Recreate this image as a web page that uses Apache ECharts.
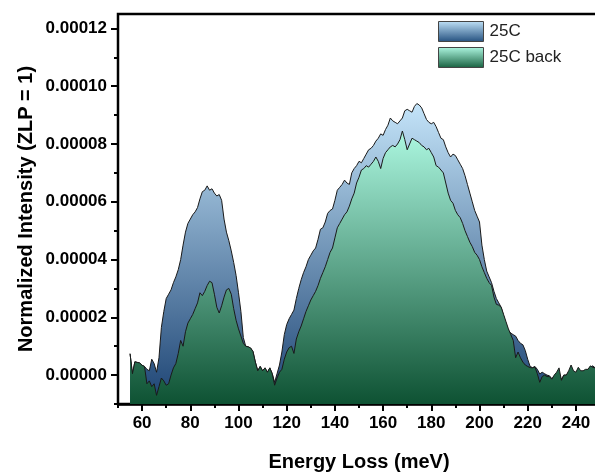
<!DOCTYPE html>
<html>
<head>
<meta charset="utf-8">
<script src="https://cdn.jsdelivr.net/npm/echarts@6/dist/echarts.min.js"></script>
<style>
  html, body { margin: 0; padding: 0; background: #fff; }
  #chart { width: 595px; height: 472px; }
</style>
</head>
<body>
<div id="chart"></div>
<script>
// energy loss (meV), one sample per meV
var energy = [
  55,56,57,58,59,60,61,62,63,64,
  65,66,67,68,69,70,71,72,73,74,
  75,76,77,78,79,80,81,82,83,84,
  85,86,87,88,89,90,91,92,93,94,
  95,96,97,98,99,100,101,102,103,104,
  105,106,107,108,109,110,111,112,113,114,
  115,116,117,118,119,120,121,122,123,124,
  125,126,127,128,129,130,131,132,133,134,
  135,136,137,138,139,140,141,142,143,144,
  145,146,147,148,149,150,151,152,153,154,
  155,156,157,158,159,160,161,162,163,164,
  165,166,167,168,169,170,171,172,173,174,
  175,176,177,178,179,180,181,182,183,184,
  185,186,187,188,189,190,191,192,193,194,
  195,196,197,198,199,200,201,202,203,204,
  205,206,207,208,209,210,211,212,213,214,
  215,216,217,218,219,220,221,222,223,224,
  225,226,227,228,229,230,231,232,233,234,
  235,236,237,238,239,240,241,242,243,244,
  245,246,247,248
];

// intensities in units of 1e-6
var unit = 1e-6;
var int25C = [
  7.4, 0.5, 4.6, 4.4, 4.2, 3.4, 3.0, 2.0, 1.5, 5.5,
  4.0, 1.0, 6.0, 16.5, 22, 26.5, 28, 29.5, 32, 34,
  36.5, 40, 45, 49.5, 52.5, 54, 55.5, 56.5, 58, 61,
  63.5, 64, 65.5, 64, 64.5, 63, 62, 62.5, 60.5, 54,
  49.5, 46.5, 43, 39, 34.5, 28.5, 22, 13, 10, 9.8,
  9.4, 8.2, 4.5, 1.5, 3, 1.5, 2.5, 1, 2.5, 0.5,
  -2.5, 0.5, 3.5, 8, 14, 17.5, 19.5, 21, 22.5, 26.5,
  30, 33, 35.5, 37.5, 40, 41.5, 43, 44, 47, 50.5,
  51, 53, 56, 57, 57.5, 60.5, 64, 65, 66, 67.5,
  66.5, 66, 70, 71.5, 72.5, 74, 73.5, 75, 76.5, 78,
  78.5, 79.5, 81, 82, 83.5, 83, 85, 86.5, 89, 88,
  87.5, 87, 88, 89, 91.5, 92, 91.5, 91, 93, 94,
  93.5, 92.5, 90.5, 88.5, 87.5, 87, 87.5, 86, 84, 82,
  81.5, 79, 77, 75.5, 76.5, 76, 74.5, 73, 71.5, 69,
  66, 63, 60, 57, 55, 53, 45, 40, 36, 34,
  32, 29, 26.5, 25, 23.5, 20.5, 17.5, 15.5, 14.5, 14,
  13.5, 12, 11, 10.5, 8.5, 5.5, 3, 2.6, 3, 2,
  0.4, 1, 0.5, 0, -0.2, -1.2, -0.5, -1, 0.5, -1.5,
  0, 0, 0.8, 1.5, 1.3, 0.5, 2, 1, 0.5, 1.5,
  2, 2.8, 3.2, 2.5
];
var int25Cback = [
  7.4, 0.5, 4.6, 4.4, 4.2, 3.4, 3.0, -3, -2, -4,
  -3, -7, -4, -1, -2, -3.5, -3, 0, 2.5, 4,
  7.5, 12, 10, 15, 18, 19.5, 21, 23, 25, 28.5,
  27.5, 29, 31, 32.5, 32, 28, 23.5, 21.5, 24, 27,
  29.5, 30, 28, 23, 19, 16, 13.5, 11, 10, 9.8,
  9.4, 8.2, 4.5, 1.5, 3, 1.5, 2.5, 1, 2.5, 0.5,
  -3.5, -1, 1, 2, 5.5, 8, 9.5, 10, 7.5, 12.5,
  15, 17, 19.5, 22, 24, 26, 27.5, 29, 31, 33.5,
  35.5, 37.5, 40, 42.5, 44, 47.5, 51, 52.5, 54, 55.5,
  56.5, 58.5, 61, 63, 66.5, 68.5, 71, 71.5, 72.5, 72,
  73, 74, 75.5, 74, 71.5, 75, 77, 78, 79, 79.5,
  79, 80, 81.5, 84.5, 81.5, 78, 80, 82, 81.5, 81,
  80.5, 79.5, 79, 78, 78.5, 77, 75.5, 72.5, 72, 71,
  70, 66.5, 63, 60.5, 59.5, 57, 55.5, 54.5, 52.5, 50,
  48, 46, 44.5, 42.5, 41.5, 40, 37.5, 35.5, 33.5, 32,
  31, 27, 24.5, 24.2, 23.5, 21, 18.5, 16, 14, 12,
  6, 8, 6, 4.5, 3.5, 3, 2.6, 2.5, 2.8, 0.5,
  -2.5, -0.5, 0, -0.5, -0.5, -1.4, 0, 1, 2.5, -1.8,
  0, 0, 1.5, 3.5, 1.5, 1, 2.7, 1.5, 1.5, 2,
  2, 3.2, 2.7, 2.5
];

var xMajor = [60, 80, 100, 120, 140, 160, 180, 200, 220, 240];
var xMinor = [50, 70, 90, 110, 130, 150, 170, 190, 210, 230, 250];
var yMajor = [0, 0.00002, 0.00004, 0.00006, 0.00008, 0.0001, 0.00012];
var yMinor = [-0.00001, 0.00001, 0.00003, 0.00005, 0.00007, 0.00009, 0.00011];
var yMin = -0.00001, yMax = 0.000125;

var FONT = 'Liberation Sans';

function grad(top, bottom) {
  return new echarts.graphic.LinearGradient(0, 0, 0, 1, [
    { offset: 0, color: top },
    { offset: 1, color: bottom }
  ]);
}

function pairs(vals) {
  return energy.map(function (e, i) { return [e, vals[i] * unit]; });
}

function yText(v) {
  var r = Math.round(v * 1e8) / 1e8;
  return (r === 0 ? 0 : r).toFixed(5);
}

// filled spectrum down to the bottom of the y axis (line areaStyle stopped at 0 here),
// drawn once as one polygon through api.coord, plus the outline on top
function areaRenderer(vals, fill) {
  return function (params, api) {
    if (params.dataIndex !== 0) return null;
    var pts = energy.map(function (e, i) { return api.coord([e, vals[i] * unit]); });
    var left = api.coord([energy[0], yMin]);
    var right = api.coord([energy[energy.length - 1], yMin]);
    return {
      type: 'group',
      children: [
        { type: 'polygon', shape: { points: [left].concat(pts, [right]) }, style: { fill: fill, stroke: null } },
        { type: 'polyline', shape: { points: pts }, style: { fill: null, stroke: '#1a1a1a', lineWidth: 1 } }
      ]
    };
  };
}

var myChart = echarts.init(document.getElementById('chart'), null, { renderer: 'canvas' });

var option = {
  animation: false,
  backgroundColor: '#fff',
  grid: {
    left: 118, right: -5, top: 14, bottom: 68,
    outerBoundsMode: 'none', containLabel: false,
    show: true, borderColor: '#000', borderWidth: 2.5, backgroundColor: 'transparent'
  },
  legend: {
    orient: 'vertical',
    left: 438, top: 21,
    padding: 0,
    itemGap: 5,
    itemWidth: 45, itemHeight: 20,
    textStyle: { fontFamily: FONT, fontSize: 17, color: '#222', padding: [0, 0, 0, 1] },
    data: [
      { name: '25C', icon: 'rect', itemStyle: { color: grad('#bfe1f7', '#24507f'), borderColor: '#444', borderWidth: 1 } },
      { name: '25C back', icon: 'rect', itemStyle: { color: grad('#aef7e1', '#17603f'), borderColor: '#444', borderWidth: 1 } }
    ]
  },
  xAxis: [
    {
      type: 'value', min: 50, max: 250,
      name: 'Energy Loss (meV)', nameLocation: 'middle', nameGap: 48,
      nameTextStyle: { fontFamily: FONT, fontSize: 20, fontWeight: 'bold', color: '#000' },
      axisLine: { show: true, onZero: false, lineStyle: { color: '#000', width: 2.5 } },
      axisTick: { show: true, customValues: xMajor, length: 7, lineStyle: { color: '#000', width: 2 } },
      axisLabel: { customValues: xMajor, margin: 11, fontFamily: FONT, fontSize: 17, fontWeight: 'bold', color: '#000' },
      splitLine: { show: false }
    },
    {
      type: 'value', min: 50, max: 250, position: 'bottom',
      axisLine: { show: false, onZero: false },
      axisTick: { show: true, customValues: xMinor, length: 4, lineStyle: { color: '#000', width: 2 } },
      axisLabel: { show: false },
      splitLine: { show: false }
    }
  ],
  yAxis: [
    {
      type: 'value', min: yMin, max: yMax, position: 'left',
      name: 'Normalized Intensity (ZLP = 1)', nameLocation: 'middle', nameGap: 82,
      nameTextStyle: { fontFamily: FONT, fontSize: 20, fontWeight: 'bold', color: '#000' },
      axisLine: { show: true, onZero: false, lineStyle: { color: '#000', width: 2 } },
      axisTick: { show: false },
      axisLabel: { show: false },
      splitLine: { show: false }
    },
    {
      type: 'value', min: yMin, max: yMax, position: 'left',
      axisLine: { show: false, onZero: false },
      axisTick: { show: true, customValues: yMajor, length: 7, lineStyle: { color: '#000', width: 2 } },
      axisLabel: {
        customValues: yMajor, margin: 11, fontFamily: FONT, fontSize: 17, fontWeight: 'bold', color: '#000',
        formatter: yText
      },
      splitLine: { show: false }
    },
    {
      type: 'value', min: yMin, max: yMax, position: 'left',
      axisLine: { show: false, onZero: false },
      axisTick: { show: true, customValues: yMinor, length: 4, lineStyle: { color: '#000', width: 2 } },
      axisLabel: { show: false },
      splitLine: { show: false }
    }
  ],
  series: [
    {
      name: '25C', type: 'custom', coordinateSystem: 'cartesian2d', xAxisIndex: 0, yAxisIndex: 0,
      data: pairs(int25C), encode: { x: 0, y: 1 },
      itemStyle: { color: '#6f9fcc' },
      renderItem: areaRenderer(int25C, grad('#c4e4f9', '#1c4373')),
      z: 2
    },
    {
      name: '25C back', type: 'custom', coordinateSystem: 'cartesian2d', xAxisIndex: 0, yAxisIndex: 0,
      data: pairs(int25Cback), encode: { x: 0, y: 1 },
      itemStyle: { color: '#4fae86' },
      renderItem: areaRenderer(int25Cback, grad('#acf7e0', '#0e5233')),
      z: 3
    }
  ]
};

myChart.setOption(option);
</script>
</body>
</html>
